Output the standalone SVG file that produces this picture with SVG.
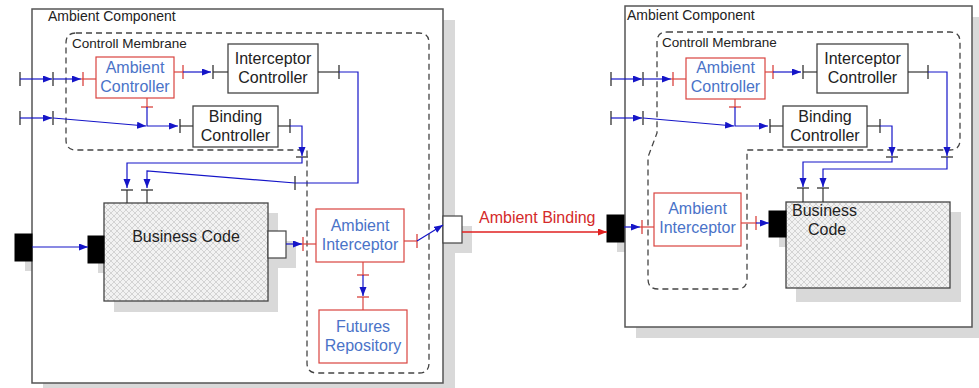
<svg xmlns="http://www.w3.org/2000/svg" width="979" height="388" viewBox="0 0 979 388">
<style>
text{font-family:"Liberation Sans",Arial,sans-serif;font-size:16px;fill:#222}
.lbl{font-size:14px}
.mem{font-size:13.5px}
.c{text-anchor:middle}
.bt{fill:#4a73c8}
.rt{fill:#d42a2a}
.shadow{fill:#d9d9d9;stroke:none}
.comp{fill:#fff;stroke:#555;stroke-width:1.5}
.membrane{fill:none;stroke:#444;stroke-width:1.3;stroke-dasharray:6 4}
.box{fill:#fff;stroke:#444;stroke-width:1.3}
.rbox{fill:#fff;stroke:#d9433f;stroke-width:1.2}
.code{fill:url(#hatch);stroke:#444;stroke-width:1.3}
.port{fill:#000;stroke:#000}
.wport{fill:#fff;stroke:#444;stroke-width:1.2}
.bl{fill:none;stroke:#1515c8;stroke-width:1.2}
.ba{fill:none;stroke:#1515c8;stroke-width:1.2;marker-end:url(#ab)}
.dl{fill:none;stroke:#333;stroke-width:1.2}
.rl{fill:none;stroke:#d9433f;stroke-width:1.2}
.ra{fill:none;stroke:#e02020;stroke-width:1.4;marker-end:url(#ar)}
.tick{stroke:#333;stroke-width:1.3}
.rtick{stroke:#d9433f;stroke-width:1.3}
</style>
<defs>
<pattern id="hatch" patternUnits="userSpaceOnUse" width="6" height="6">
<rect width="6" height="6" fill="#f2f2f2"/>
<path d="M0,0 L6,6 M6,0 L0,6" stroke="#bdbdbd" stroke-width="0.6"/>
</pattern>
<marker id="ab" markerUnits="userSpaceOnUse" markerWidth="10" markerHeight="8" refX="9" refY="3.5" orient="auto">
<path d="M0,0 L9,3.5 L0,7 z" fill="#1515c8"/>
</marker>
<marker id="ar" markerUnits="userSpaceOnUse" markerWidth="10" markerHeight="8" refX="9" refY="3.5" orient="auto">
<path d="M0,0 L9,3.5 L0,7 z" fill="#e02020"/>
</marker>
</defs>

<g id="left-component">
<rect class="shadow" x="43" y="20" width="412" height="374"/>
<rect class="shadow" x="25" y="244" width="17" height="27"/>
<rect class="comp" x="32" y="9" width="411" height="374"/>
<text class="lbl" x="48" y="21">Ambient Component</text>
</g>
<g id="left-membrane">
<path class="membrane" d="M76,33 L419,33 Q429,33 429,43 L429,363 Q429,373 419,373 L317,373 Q307,373 307,363 L307,150 L76,150 Q66,150 66,140 L66,43 Q66,33 76,33 Z"/>
<text class="mem" x="72" y="48">Controll Membrane</text>
</g>
<g id="left-ambient-controller">
<rect class="rbox" x="96" y="57" width="78" height="41"/>
<text class="c bt" x="135" y="73">Ambient</text>
<text class="c bt" x="135" y="92">Controller</text>
</g>
<g id="left-interceptor-controller">
<rect class="box" x="228" y="44" width="90" height="49"/>
<text class="c" x="273" y="64">Interceptor</text>
<text class="c" x="273" y="83">Controller</text>
</g>
<g id="left-binding-controller">
<rect class="box" x="193" y="106" width="85" height="41"/>
<text class="c" x="235.5" y="122">Binding</text>
<text class="c" x="235.5" y="141">Controller</text>
</g>
<g id="left-business-code">
<rect class="shadow" x="114" y="213" width="164" height="99"/>
<rect class="shadow" x="278" y="241" width="18" height="27"/>
<rect class="shadow" x="98" y="246" width="16" height="27"/>
<rect class="code" x="104" y="203" width="164" height="98"/>
<rect class="port" x="88" y="236" width="16" height="27"/>
<rect class="wport" x="268" y="231" width="18" height="27"/>
<text class="c" x="186" y="242">Business Code</text>
</g>
<g id="left-outer-port">
<rect class="port" x="15" y="234" width="17" height="27"/>
</g>
<g id="left-ambient-interceptor">
<rect class="rbox" x="316" y="209" width="88" height="53"/>
<text class="c bt" x="360" y="231">Ambient</text>
<text class="c bt" x="360" y="250">Interceptor</text>
</g>
<g id="futures-repository">
<rect class="rbox" x="319" y="310" width="88" height="53"/>
<text class="c bt" x="363" y="332">Futures</text>
<text class="c bt" x="363" y="351">Repository</text>
</g>
<g id="left-exit-port">
<rect class="shadow" x="453" y="226" width="19" height="27"/>
<rect class="wport" x="443" y="216" width="19" height="27"/>
</g>

<g id="right-component">
<rect class="shadow" x="636" y="17" width="347" height="321"/>
<rect class="shadow" x="617" y="225" width="17" height="27"/>
<rect class="comp" x="625" y="6" width="347" height="321"/>
<text class="lbl" x="627" y="20">Ambient Component</text>
</g>
<g id="right-entry-port">
<rect class="port" x="607" y="215" width="17" height="27"/>
</g>
<g id="right-membrane">
<path class="membrane" d="M667,32 L950,32 Q960,32 960,42 L960,140 Q960,150 950,150 L747,150 L747,279 Q747,289 737,289 L658,289 Q648,289 648,279 L648,157 L657,133 L657,42 Q657,32 667,32 Z"/>
<text class="mem" x="662" y="47">Controll Membrane</text>
</g>
<g id="right-ambient-controller">
<rect class="rbox" x="686" y="58" width="79" height="41"/>
<text class="c bt" x="725.5" y="73">Ambient</text>
<text class="c bt" x="725.5" y="92">Controller</text>
</g>
<g id="right-interceptor-controller">
<rect class="box" x="817" y="44" width="91" height="49"/>
<text class="c" x="862.5" y="64">Interceptor</text>
<text class="c" x="862.5" y="83">Controller</text>
</g>
<g id="right-binding-controller">
<rect class="box" x="783" y="106" width="84" height="41"/>
<text class="c" x="825" y="122">Binding</text>
<text class="c" x="825" y="141">Controller</text>
</g>
<g id="right-ambient-interceptor">
<rect class="rbox" x="654" y="193" width="87" height="53"/>
<text class="c bt" x="697.5" y="214">Ambient</text>
<text class="c bt" x="697.5" y="233">Interceptor</text>
</g>
<g id="right-business-code">
<rect class="shadow" x="796" y="212" width="165" height="90"/>
<rect class="shadow" x="779" y="221" width="17" height="26"/>
<rect class="code" x="786" y="202" width="164" height="86"/>
<rect class="port" x="769" y="211" width="17" height="26"/>
<text x="792" y="216">Business</text>
<text x="808" y="235">Code</text>
</g>

<g id="connectors">
<line class="tick" x1="20" y1="72" x2="20" y2="86"/>
<line class="ba" x1="20" y1="79" x2="52" y2="79"/>
<line class="tick" x1="53" y1="72" x2="53" y2="86"/>
<line class="ba" x1="53" y1="79" x2="81" y2="79"/>
<line class="rl" x1="81" y1="79" x2="96" y2="79"/>
<line class="rtick" x1="83" y1="72" x2="83" y2="86"/>

<line class="rl" x1="174" y1="72" x2="183" y2="72"/>
<line class="rtick" x1="183" y1="65" x2="183" y2="79"/>
<line class="ba" x1="183" y1="72" x2="211" y2="72"/>
<line class="tick" x1="213" y1="65" x2="213" y2="79"/>
<line class="dl" x1="213" y1="72" x2="228" y2="72"/>

<line class="rl" x1="147" y1="98" x2="147" y2="107"/>
<line class="rtick" x1="141" y1="107" x2="153" y2="107"/>
<polyline class="ba" points="147,107 147,126 178,126"/>
<line class="tick" x1="180" y1="119" x2="180" y2="133"/>
<line class="dl" x1="180" y1="126" x2="193" y2="126"/>

<line class="tick" x1="20" y1="111" x2="20" y2="125"/>
<line class="ba" x1="20" y1="118" x2="52" y2="118"/>
<line class="tick" x1="53" y1="111" x2="53" y2="125"/>
<line class="ba" x1="53" y1="118" x2="146" y2="126"/>

<line class="dl" x1="318" y1="72" x2="339" y2="72"/>
<line class="tick" x1="339" y1="65" x2="339" y2="79"/>
<polyline class="bl" points="339,72 358,72 358,183 295,183"/>
<line class="tick" x1="295" y1="176" x2="295" y2="190"/>
<polyline class="ba" points="295,183 147,171 147,188"/>
<line class="tick" x1="141" y1="190" x2="153" y2="190"/>
<line class="dl" x1="147" y1="190" x2="147" y2="203"/>

<line class="dl" x1="278" y1="126" x2="290" y2="126"/>
<line class="tick" x1="290" y1="119" x2="290" y2="133"/>
<polyline class="ba" points="290,126 302,126 302,156"/>
<line class="tick" x1="296" y1="157" x2="308" y2="157"/>
<polyline class="ba" points="302,157 302,163 127,163 127,188"/>
<line class="tick" x1="121" y1="190" x2="133" y2="190"/>
<line class="dl" x1="127" y1="190" x2="127" y2="203"/>

<line class="ba" x1="32" y1="247" x2="88" y2="247"/>

<line class="ba" x1="286" y1="244" x2="302" y2="244"/>
<line class="rtick" x1="303" y1="237" x2="303" y2="251"/>
<line class="rl" x1="302" y1="244" x2="316" y2="244"/>

<line class="rl" x1="404" y1="241" x2="417" y2="241"/>
<line class="rtick" x1="417" y1="234" x2="417" y2="248"/>
<line class="ba" x1="417" y1="241" x2="443" y2="225"/>

<line class="rl" x1="363" y1="262" x2="363" y2="275"/>
<line class="rtick" x1="357" y1="275" x2="369" y2="275"/>
<line class="ba" x1="363" y1="275" x2="363" y2="296"/>
<line class="rtick" x1="357" y1="297" x2="369" y2="297"/>
<line class="rl" x1="363" y1="297" x2="363" y2="310"/>

<line class="ra" x1="462" y1="232" x2="607" y2="232"/>
<text class="rt" x="479" y="223">Ambient Binding</text>

<line class="ba" x1="624" y1="227" x2="640" y2="227"/>
<line class="rtick" x1="642" y1="220" x2="642" y2="234"/>
<line class="rl" x1="640" y1="227" x2="654" y2="227"/>

<line class="rl" x1="741" y1="223" x2="756" y2="223"/>
<line class="rtick" x1="756" y1="216" x2="756" y2="230"/>
<line class="ba" x1="756" y1="223" x2="769" y2="223"/>

<line class="tick" x1="611" y1="72" x2="611" y2="86"/>
<line class="ba" x1="611" y1="79" x2="642" y2="79"/>
<line class="tick" x1="643" y1="72" x2="643" y2="86"/>
<line class="ba" x1="643" y1="79" x2="671" y2="79"/>
<line class="rl" x1="671" y1="79" x2="686" y2="79"/>
<line class="rtick" x1="673" y1="72" x2="673" y2="86"/>

<line class="rl" x1="765" y1="72" x2="773" y2="72"/>
<line class="rtick" x1="773" y1="65" x2="773" y2="79"/>
<line class="ba" x1="773" y1="72" x2="801" y2="72"/>
<line class="tick" x1="803" y1="65" x2="803" y2="79"/>
<line class="dl" x1="803" y1="72" x2="817" y2="72"/>

<line class="rl" x1="735" y1="99" x2="735" y2="107"/>
<line class="rtick" x1="729" y1="107" x2="741" y2="107"/>
<polyline class="ba" points="735,107 735,126 768,126"/>
<line class="tick" x1="770" y1="119" x2="770" y2="133"/>
<line class="dl" x1="770" y1="126" x2="783" y2="126"/>

<line class="tick" x1="611" y1="111" x2="611" y2="125"/>
<line class="ba" x1="611" y1="118" x2="642" y2="118"/>
<line class="tick" x1="643" y1="111" x2="643" y2="125"/>
<line class="ba" x1="643" y1="118" x2="734" y2="126"/>

<line class="dl" x1="908" y1="72" x2="928" y2="72"/>
<line class="tick" x1="928" y1="65" x2="928" y2="79"/>
<polyline class="ba" points="928,72 947,72 947,156"/>
<line class="tick" x1="941" y1="157" x2="953" y2="157"/>
<polyline class="ba" points="947,157 947,169 823,169 823,187"/>
<line class="tick" x1="817" y1="188" x2="829" y2="188"/>
<line class="dl" x1="823" y1="188" x2="823" y2="202"/>

<line class="dl" x1="867" y1="126" x2="880" y2="126"/>
<line class="tick" x1="880" y1="119" x2="880" y2="133"/>
<polyline class="ba" points="880,126 892,126 892,156"/>
<line class="tick" x1="886" y1="157" x2="898" y2="157"/>
<polyline class="ba" points="892,157 892,162 803,162 803,187"/>
<line class="tick" x1="797" y1="188" x2="809" y2="188"/>
<line class="dl" x1="803" y1="188" x2="803" y2="202"/>
</g>
</svg>
